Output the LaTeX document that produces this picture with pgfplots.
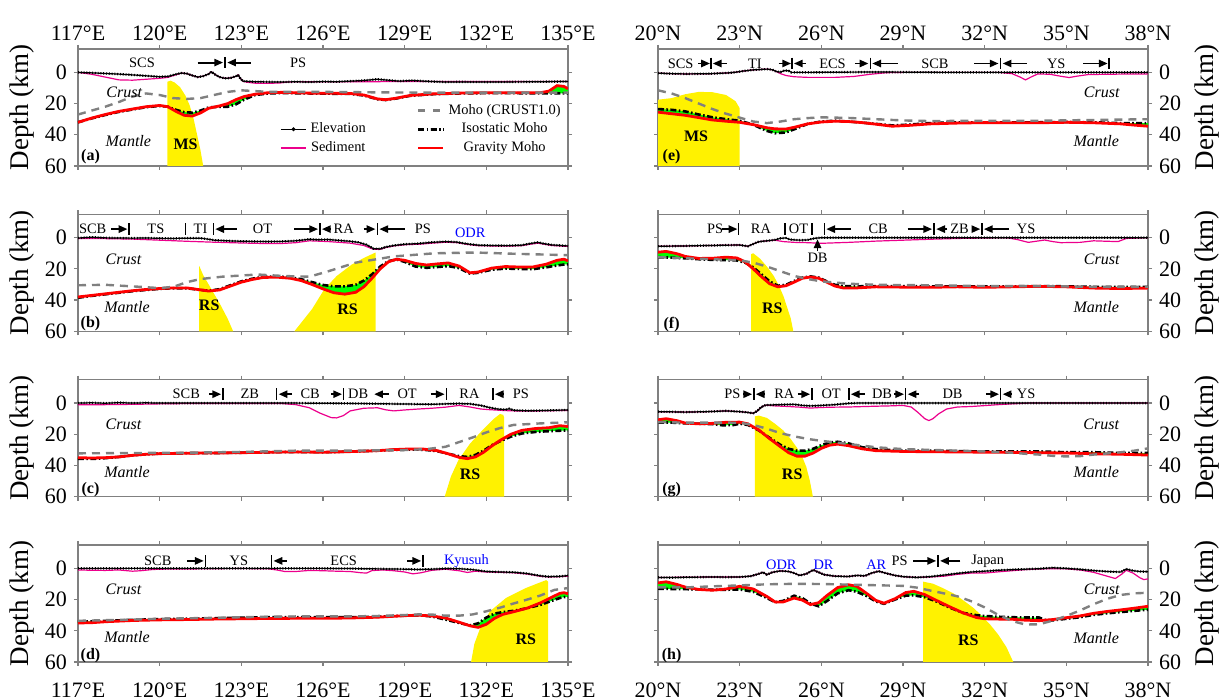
\documentclass[border=0pt]{standalone}
\usepackage{fontspec}
\setmainfont{Liberation Serif}
\usepackage{pgfplots}
\usepackage{pgfplotstable}
\pgfplotsset{compat=1.18}
\usetikzlibrary{arrows.meta}

\newcommand{\fs}{\fontsize{7.2}{8}\selectfont}
\newcommand{\rarr}[3]{\draw[-{Triangle[length=4.4pt,width=3.6pt]},line width=0.95pt] (axis cs:#1,#3) -- (axis cs:#2,#3);}
\newcommand{\vb}[2]{\draw[line width=0.75pt] ([yshift=2.9pt]axis cs:#1,#2) -- ([yshift=-2.9pt]axis cs:#1,#2);}
\newcommand{\tx}[3]{\node[font=\fs,inner sep=0pt] at (axis cs:#1,#2) {#3};}
\newcommand{\btx}[3]{\node[font=\fs,text=blue,inner sep=0pt] at (axis cs:#1,#2) {#3};}
\newcommand{\crust}[2]{\node[font=\fontsize{8}{9}\selectfont\itshape,inner sep=0pt] at (axis cs:#1,#2) {Crust};}
\newcommand{\mantle}[2]{\node[font=\fontsize{8}{9}\selectfont\itshape,inner sep=0pt] at (axis cs:#1,#2) {Mantle};}
\newcommand{\bld}[3]{\node[font=\fontsize{8}{9}\selectfont\bfseries,inner sep=0pt] at (axis cs:#1,#2) {#3};}

\pgfplotsset{
 panel/.style={
  scale only axis, width=245pt, height=58.5pt, anchor=south west,
  ymin=-15, ymax=60, y dir=reverse, ytick={0,20,40,60},
  axis line style={draw=gray, line width=0.6pt},
  tick align=outside, xtick pos=both, ytick pos=both,
  major tick length=2pt,
  every tick/.style={gray, line width=0.6pt},
  tick label style={font=\fontsize{11}{12}\selectfont},
  /pgf/number format/assume math mode=true,
  label style={font=\fontsize{13.5}{15}\selectfont},
 },
 Lp/.style={panel, xmin=117, xmax=135, xtick={117,120,...,135},
   ylabel={Depth (km)}, ylabel style={at={(axis description cs:-0.115,0.5)},anchor=center}},
 Rp/.style={panel, xmin=20, xmax=38, xtick={20,23,...,38}, yticklabel pos=right,
   ylabel={Depth (km)}, ylabel style={at={(axis description cs:1.12,0.5)},anchor=center}},
 Lx/.style={xticklabels={117°E,120°E,123°E,126°E,129°E,132°E,135°E}},
 Rx/.style={xticklabels={20°N,23°N,26°N,29°N,32°N,35°N,38°N}},
 nox/.style={xticklabels={}},
 top/.style={xticklabel pos=right, xtick pos=both, xticklabel style={yshift=-1.5pt}},
 bot/.style={xticklabel style={yshift=-5pt}},
 elev/.style={black, line width=0.6pt, forget plot},
 elevdots/.style={black, line width=1.2pt, dash pattern=on 0.5pt off 0.9pt, forget plot},
 sed/.style={magenta, line width=0.6pt, forget plot},
 crust/.style={gray, line width=1.2pt, dash pattern=on 4pt off 3pt, forget plot},
 iso/.style={black, line width=1.3pt, dash pattern=on 3pt off 1.2pt on 0.8pt off 1.2pt, forget plot},
 grav/.style={red, line width=1.4pt, forget plot},
 slab/.style={fill=yellow, draw=none, forget plot},
 gfill/.style={fill=green, draw=none, forget plot},
}

\begin{document}

\pgfplotstableread{
x y
117 0
117.5 0.3
118 0.7
118.5 1.1
119 1.6
119.5 2.2
120 2.8
120.3 2.6
120.6 1.2
120.8 0.4
121.0 0.8
121.2 2.0
121.4 3.0
121.6 2.4
121.8 1.0
121.9 -0.4
122.05 1.5
122.2 3.0
122.4 3.8
122.6 3.6
122.8 2.5
122.88 1.6
122.95 3.5
123.05 5.6
123.5 6.0
124 6.1
124.5 6.2
125 6.0
125.5 6.2
126 5.9
126.5 6.0
127 5.6
127.5 5.2
128 4.4
128.4 5.0
128.8 5.6
129.3 5.2
129.8 5.7
130.5 6.2
131 6.1
132 6.2
133 6.1
134 6.0
135 5.8
}\elevA

\pgfplotstableread{
x y
20 0.5
20.5 0.8
21 1.0
21.5 0.9
22 0.8
22.5 0.4
22.8 0.0
23.0 -0.5
23.2 -1.0
23.5 -1.6
23.8 -1.9
24.0 -2.1
24.2 -1.7
24.35 -0.5
24.5 -0.2
24.65 -1.2
24.8 -1.0
24.9 0.0
25.5 0.0
26.5 -0.1
27.5 -0.2
28.5 -0.2
29.5 -0.1
30.5 0.0
38 0.0
}\elevE

\pgfplotstableread{
x y
117 0.2
117.5 -0.3
118 0.1
118.5 0.2
119 0.3
119.5 0.2
120 0.4
120.5 0.5
121 0.3
121.5 0.3
121.8 1.0
122 1.6
122.5 2.0
123 2.3
123.5 2.4
124 2.5
124.5 2.4
125 2.0
125.5 1.0
125.8 1.3
126.2 1.2
126.6 1.8
127 2.3
127.3 3.0
127.6 4.5
127.85 7.0
128.1 7.2
128.3 6.0
128.6 5.0
129 4.2
129.5 3.8
130 3.0
130.5 2.5
130.9 2.8
131.3 4.0
131.7 4.8
132.2 5.0
132.8 5.1
133.3 4.8
133.6 3.8
133.9 3.0
134.1 3.8
134.4 4.6
135 5.3
}\elevB

\pgfplotstableread{
x y
20 5.5
20.5 5.4
21 5.3
21.5 5.1
22 5.0
22.5 4.8
23 4.7
23.3 5.5
23.5 4.0
23.7 2.6
24 2.0
24.3 1.4
24.5 0.4
24.7 0.2
24.85 1.2
25.2 1.6
25.5 1.4
25.75 0.4
26 0
38 0
}\elevF

\pgfplotstableread{
x y
117 0
117.5 -0.2
118 0.1
118.5 -0.3
119 0
119.5 -0.2
120 0
121 0
122 0
123 0
124 0
125 0
126 0.1
127 0.2
128 0.4
129 0.6
129.5 0.7
130 0.8
130.5 0.5
131 0.3
131.4 0.5
131.8 1.5
132.1 2.8
132.4 3.8
132.7 4.2
132.85 3.6
133.0 4.6
133.5 4.9
134 4.8
134.5 4.6
135 4.4
}\elevC

\pgfplotstableread{
x y
20 5.5
20.5 5.6
21 5.8
21.5 5.6
22 5.4
22.5 5.0
23 5.5
23.3 6.0
23.5 6.5
23.65 5.0
23.8 2.5
23.95 1.3
24.5 1.0
25 0.8
25.3 1.5
25.6 1.8
26 1.5
26.5 1.0
27 0.2
27.3 0
38 0
}\elevG

\pgfplotstableread{
x y
117 0
118 0
119 0
120 0
121 0
122 0
123 0
124 0
125 0
126 0
127 0.1
128 0.3
129 0.5
129.5 0.7
130 0.5
130.5 0.1
131 0.2
131.5 0.8
132 2.0
132.5 2.3
133 2.5
133.5 3.3
134 4.8
134.3 5.3
134.7 5.1
135 4.6
}\elevD

\pgfplotstableread{
x y
20 5.8
20.5 5.9
21 5.7
21.5 5.6
22 5.5
22.5 5.6
23 5.5
23.4 5.0
23.7 3.5
23.85 2.5
24.0 4.0
24.2 2.5
24.5 1.6
24.8 2.0
25.0 3.0
25.2 4.5
25.45 3.5
25.7 1.0
25.9 2.5
26.1 4.0
26.5 5.0
27.0 5.2
27.3 4.5
27.6 4.8
27.85 3.0
28.1 1.8
28.4 3.2
28.7 4.5
29.0 5.3
29.5 5.8
30.0 5.3
30.5 4.3
31.0 3.2
31.5 2.3
32.0 1.8
32.5 1.2
33.0 0.8
33.5 0.5
34.0 0.2
34.5 -0.4
35.0 0
35.5 0.6
36.0 1.4
36.5 2.0
37.0 2.3
37.2 0.4
37.45 1.5
37.7 2.0
38 2.1
}\elevH

\begin{tikzpicture}
\path[use as bounding box] (0,0) rectangle (612.5pt,350pt);

% ---------------- (a)
\begin{axis}[Lp, Lx, top, at={(39pt,267pt)},
  legend columns=2,
  legend style={at={(0.412,0.314)}, anchor=west, draw=none, fill=none,
    font=\fs, row sep=-1.15pt, inner sep=0pt,
    /tikz/every even column/.append style={column sep=23.5pt}},
  legend image code/.code={\draw[mark repeat=2,mark phase=2] plot coordinates {(0pt,0pt)(6.25pt,0pt)(12.5pt,0pt)};}]
\addplot[slab] coordinates {(120.28,60)(120.28,6)(120.4,5.3)(120.55,6.5)(120.75,9.5)(120.95,15)(121.1,21)(121.25,30)(121.4,42)(121.5,50)(121.6,60)} -- cycle;
\addplot[gfill] coordinates {(117,32)(117.5,29.3)(118,27)(118.5,25)(119,23.5)(119.5,22)(120,21.2)(120.3,22)(120.6,25)(120.9,27.5)(121.2,28)(121.5,26)(121.8,23)(122.2,21.5)(122.5,20)(122.8,17.5)(123.1,15.5)(123.5,14)(124,13)(124.5,12.8)(125.5,13.3)(127,13.5)(127.5,14.5)(128,17)(128.3,17.5)(128.7,16.5)(129.2,14.8)(130,13.8)(131,13.3)(132,13)(133,13)(134,13)(134.3,12)(134.6,8.5)(134.85,9)(135,10.5)
 (135,13.5)(134.85,13.5)(134.6,13.5)(134.3,13.5)(134,13.5)(133,13.3)(132,13.3)(131,13.5)(130,14)(129.2,15)(128.7,16.7)(128.3,17.7)(128,17.2)(127.5,14.8)(127,13.8)(125.5,13.5)(124.5,13.2)(124,13.5)(123.5,14.5)(123.1,17.5)(122.8,20.5)(122.5,22)(122.2,22)(121.8,22.5)(121.5,24.5)(121.2,25.8)(120.9,25.5)(120.6,24)(120.3,22)(120,21.5)(119.5,22.3)(119,23.8)(118.5,25.3)(118,27.3)(117.5,29.5)(117,32)} -- cycle;
\addplot[sed] coordinates {(117,0)(117.5,1.2)(118,3.0)(118.5,4.8)(119,5.0)(119.5,4.4)(120,3.8)(120.3,3.2)(120.6,1.5)(120.8,0.5)(121.0,0.8)(121.2,2.0)(121.4,3.0)(121.6,2.4)(121.8,1.0)(121.9,-0.4)(122.05,1.5)(122.2,3.0)(122.4,3.8)(122.6,3.6)(122.8,2.5)(122.88,1.6)(122.95,3.5)(123.05,5.6)(123.2,6.3)(123.5,6.9)(124,7.0)(124.4,6.8)(124.7,6.2)(125,6.0)(135,5.8)};
\addplot[elev] table {\elevA};
\addplot[elevdots] table {\elevA};
\addplot[iso] coordinates {(117,32)(117.5,29.5)(118,27.3)(118.5,25.3)(119,23.8)(119.5,22.3)(120,21.5)(120.3,22)(120.6,24)(120.9,25.5)(121.2,25.8)(121.5,24.5)(121.8,22.5)(122.2,22)(122.5,22)(122.8,20.5)(123.1,17.5)(123.5,14.5)(124,13.5)(124.5,13.2)(125.5,13.5)(127,13.8)(127.5,14.8)(128,17.2)(128.3,17.7)(128.7,16.7)(129.2,15)(130,14)(131,13.5)(132,13.3)(133,13.3)(134,13.5)(134.3,13.5)(134.6,13.5)(134.85,13.5)(135,13.5)};
\addplot[grav] coordinates {(117,32)(117.5,29.3)(118,27)(118.5,25)(119,23.5)(119.5,22)(120,21.2)(120.3,22)(120.6,25)(120.9,27.5)(121.2,28)(121.5,26)(121.8,23)(122.2,21.5)(122.5,20)(122.8,17.5)(123.1,15.5)(123.5,14)(124,13)(124.5,12.8)(125.5,13.3)(127,13.5)(127.5,14.5)(128,17)(128.3,17.5)(128.7,16.5)(129.2,14.8)(130,13.8)(131,13.3)(132,13)(133,13)(134,13)(134.3,12)(134.6,8.5)(134.85,9)(135,10.5)};
\addplot[crust] coordinates {(117,27)(117.5,24.5)(118,22)(118.5,19)(119,15.5)(119.5,13.5)(120,14.5)(120.5,16.5)(121,17)(121.5,16.5)(122,14.5)(122.5,12.5)(123,11.5)(123.5,12)(124,12.5)(126,12.5)(128,12.8)(130,13)(132,13)(134,13)(135,13)};
\tx{119.35}{-6.3}{SCS}
\rarr{121.39}{122.33}{-6.3}\vb{122.40}{-6.3}\rarr{123.35}{122.48}{-6.3}
\tx{125.09}{-6.3}{PS}
\crust{118.7}{13}\mantle{118.85}{43.8}\bld{120.95}{46}{MS}\bld{117.46}{53.7}{(a)}
\addlegendimage{color=white}\addlegendentry{}
\addlegendimage{color=gray, line width=1.2pt, dash pattern=on 3.5pt off 4pt}\addlegendentry{Moho (CRUST1.0)}
\addlegendimage{color=black, line width=0.5pt, mark=*, mark size=0.7pt}\addlegendentry{Elevation}
\addlegendimage{color=black, line width=1.3pt, dash pattern=on 3pt off 1.2pt on 0.8pt off 1.2pt}\addlegendentry{Isostatic Moho}
\addlegendimage{color=magenta, line width=0.7pt}\addlegendentry{Sediment}
\addlegendimage{color=red, line width=1.4pt}\addlegendentry{Gravity Moho}
\end{axis}

% ---------------- (b)
\begin{axis}[Lp, nox, at={(39pt,184.35pt)}]
\addplot[slab] coordinates {(121.45,60)(121.45,18)(121.6,24)(121.9,33)(122.2,42)(122.5,52)(122.7,60)} -- cycle;
\addplot[slab] coordinates {(124.95,60)(125.6,45.7)(126.05,33)(126.5,24.6)(127.05,17.3)(127.5,13)(127.93,9.5)(127.93,60)} -- cycle;
\addplot[gfill] coordinates {(117,38)(117.5,37)(118,36)(118.5,35)(119,34)(119.5,33.2)(120,32.6)(120.5,32.2)(121,32.2)(121.4,33.2)(121.8,34.2)(122.2,33.5)(122.6,31)(123,28.5)(123.4,26.8)(123.8,25.5)(124.3,25.3)(124.8,26)(125.2,27.5)(125.6,30)(126,32.8)(126.4,35.3)(126.8,36.2)(127.2,35)(127.5,31.5)(127.8,26)(128.1,20)(128.4,15.5)(128.7,13.8)(129,14.5)(129.4,16.5)(129.8,17.5)(130.2,16.8)(130.6,16.2)(131,18.2)(131.4,22.5)(131.7,22)(132.2,19.5)(132.7,18.5)(133.2,18.8)(133.7,18.8)(134.2,17)(134.6,14.5)(134.85,13.8)(135,14.8)
 (135,17)(134.85,17.2)(134.6,17.8)(134.2,19)(133.7,20.2)(133.2,20)(132.7,19.8)(132.2,20.5)(131.7,22.5)(131.4,23)(131,19.5)(130.6,18.2)(130.2,18.8)(129.8,19.3)(129.4,18.5)(129,15.5)(128.7,14)(128.4,15)(128.1,18.5)(127.8,23.5)(127.5,27.5)(127.2,30.2)(126.8,31.2)(126.4,31.2)(126,30.3)(125.6,28.5)(125.2,26.6)(124.8,25.4)(124.3,24.8)(123.8,25.1)(123.4,26.3)(123,28)(122.6,30.5)(122.2,33)(121.8,34)(121.4,33.3)(121,32.4)(120.5,32.4)(120,32.8)(119.5,33.5)(119,34.3)(118.5,35.3)(118,36.3)(117.5,37.3)(117,38.5)} -- cycle;
\addplot[sed] coordinates {(117,0.5)(118,0.6)(119,0.9)(120,1.6)(121,2.3)(122,2.9)(123,3.4)(124,3.8)(124.5,3.7)(125,3.2)(125.5,2.0)(125.8,2.2)(126.2,2.5)(126.6,3.0)(127,3.5)(127.5,5.0)(127.85,7.4)(128.1,7.5)(128.3,6.3)(128.6,5.3)(129,4.5)(129.5,4.2)(130,3.5)(130.5,2.9)(130.9,3.1)(131.3,4.3)(131.7,5.1)(132.2,5.3)(132.8,5.4)(133.3,5.1)(133.6,4.2)(133.9,3.5)(134.1,4.1)(134.4,5.0)(135,5.6)};
\addplot[elev] table {\elevB};
\addplot[elevdots] table {\elevB};
\addplot[iso] coordinates {(117,38.5)(117.5,37.3)(118,36.3)(118.5,35.3)(119,34.3)(119.5,33.5)(120,32.8)(120.5,32.4)(121,32.4)(121.4,33.3)(121.8,34)(122.2,33)(122.6,30.5)(123,28)(123.4,26.3)(123.8,25.1)(124.3,24.8)(124.8,25.4)(125.2,26.6)(125.6,28.5)(126,30.3)(126.4,31.2)(126.8,31.2)(127.2,30.2)(127.5,27.5)(127.8,23.5)(128.1,18.5)(128.4,15)(128.7,14)(129,15.5)(129.4,18.5)(129.8,19.3)(130.2,18.8)(130.6,18.2)(131,19.5)(131.4,23)(131.7,22.5)(132.2,20.5)(132.7,19.8)(133.2,20)(133.7,20.2)(134.2,19)(134.6,17.8)(134.85,17.2)(135,17)};
\addplot[grav] coordinates {(117,38)(117.5,37)(118,36)(118.5,35)(119,34)(119.5,33.2)(120,32.6)(120.5,32.2)(121,32.2)(121.4,33.2)(121.8,34.2)(122.2,33.5)(122.6,31)(123,28.5)(123.4,26.8)(123.8,25.5)(124.3,25.3)(124.8,26)(125.2,27.5)(125.6,30)(126,32.8)(126.4,35.3)(126.8,36.2)(127.2,35)(127.5,31.5)(127.8,26)(128.1,20)(128.4,15.5)(128.7,13.8)(129,14.5)(129.4,16.5)(129.8,17.5)(130.2,16.8)(130.6,16.2)(131,18.2)(131.4,22.5)(131.7,22)(132.2,19.5)(132.7,18.5)(133.2,18.8)(133.7,18.8)(134.2,17)(134.6,14.5)(134.85,13.8)(135,14.8)};
\addplot[crust] coordinates {(117,30.5)(118,30.2)(119,31.2)(120,32.3)(120.5,31.5)(121,28.5)(121.5,26.5)(122.3,25)(123.6,23.6)(124.6,24.6)(125.5,25)(126.2,21.5)(127.2,16)(128.6,12)(130.1,10)(131.6,9.5)(133,10.3)(135,11.2)};
\tx{117.54}{-5.5}{SCB}\rarr{118.22}{118.82}{-5.5}\vb{118.87}{-5.5}
\tx{119.86}{-5.5}{TS}
\vb{120.95}{-5.5}\tx{121.50}{-5.5}{TI}\vb{121.97}{-5.5}\rarr{122.84}{122.04}{-5.5}
\tx{123.78}{-5.5}{OT}
\rarr{124.95}{125.82}{-5.5}\vb{125.89}{-5.5}\rarr{126.25}{125.96}{-5.5}
\tx{126.76}{-5.5}{RA}
\rarr{127.49}{127.93}{-5.5}\vb{128.0}{-5.5}\rarr{129.01}{128.07}{-5.5}
\tx{129.67}{-5.5}{PS}
\btx{131.41}{-3.4}{ODR}
\crust{118.67}{13.7}\mantle{118.8}{44.2}\bld{121.82}{43.6}{RS}\bld{126.9}{45.7}{RS}\bld{117.46}{55}{(b)}
\end{axis}

% ---------------- (c)
\begin{axis}[Lp, nox, at={(39pt,101.65pt)}]
\addplot[slab] coordinates {(130.47,60)(130.7,47)(130.98,36.4)(131.4,26)(131.85,17.5)(132.28,10)(132.5,7)(132.62,7.5)(132.65,9)(132.65,60)} -- cycle;
\addplot[gfill] coordinates {(117,35)(117.5,35.2)(118,35)(118.5,34.5)(119,33.5)(119.5,32.8)(120,32.4)(121,32.1)(122,32)(123,31.8)(124,31.5)(125,31.3)(126,31.5)(127,31.1)(128,30.5)(128.6,29.8)(129.2,29.4)(129.7,29.5)(130.2,30.5)(130.6,32.5)(131,34.8)(131.3,35.6)(131.6,34.5)(131.9,31.5)(132.2,27.5)(132.5,24)(132.9,20)(133.3,17.5)(133.8,16.3)(134.3,15.8)(134.7,14.5)(135,15)
 (135,17.5)(134.7,17.7)(134.3,18)(133.8,18.5)(133.3,19.5)(132.9,21.5)(132.5,24.5)(132.2,27)(131.9,30.5)(131.6,33.2)(131.3,34.5)(131,34)(130.6,32.5)(130.2,30.8)(129.7,29.9)(129.2,29.8)(128.6,30)(128,30.5)(127,31.1)(126,31.5)(125,31.3)(124,31.5)(123,31.8)(122,32)(121,32.1)(120,32.4)(119.5,32.8)(119,33.5)(118.5,34.5)(118,35.3)(117.5,35.8)(117,35.8)} -- cycle;
\addplot[sed] coordinates {(117,1.0)(118,1.0)(119,0.8)(120,0.5)(121,0.3)(122,0.2)(123.5,0.2)(124.5,0.3)(125,1.0)(125.5,3.0)(125.9,6.5)(126.3,9.3)(126.5,9.5)(126.75,8.0)(127,5.0)(127.5,3.3)(128,3.0)(128.3,4.3)(128.6,5.0)(129,4.4)(129.5,3.8)(130,3.3)(130.5,2.6)(131,1.5)(131.4,2.5)(131.8,3.8)(132.1,4.2)(132.4,4.5)(132.7,4.8)(133.0,5.0)(133.5,5.1)(134,5.0)(135,4.7)};
\addplot[elev] table {\elevC};
\addplot[elevdots] table {\elevC};
\addplot[iso] coordinates {(117,35.8)(117.5,35.8)(118,35.3)(118.5,34.5)(119,33.5)(119.5,32.8)(120,32.4)(121,32.1)(122,32)(123,31.8)(124,31.5)(125,31.3)(126,31.5)(127,31.1)(128,30.5)(128.6,30)(129.2,29.8)(129.7,29.9)(130.2,30.8)(130.6,32.5)(131,34)(131.3,34.5)(131.6,33.2)(131.9,30.5)(132.2,27)(132.5,24.5)(132.9,21.5)(133.3,19.5)(133.8,18.5)(134.3,18)(134.7,17.7)(135,17.5)};
\addplot[grav] coordinates {(117,35)(117.5,35.2)(118,35)(118.5,34.5)(119,33.5)(119.5,32.8)(120,32.4)(121,32.1)(122,32)(123,31.8)(124,31.5)(125,31.3)(126,31.5)(127,31.1)(128,30.5)(128.6,29.8)(129.2,29.4)(129.7,29.5)(130.2,30.5)(130.6,32.5)(131,34.8)(131.3,35.6)(131.6,34.5)(131.9,31.5)(132.2,27.5)(132.5,24)(132.9,20)(133.3,17.5)(133.8,16.3)(134.3,15.8)(134.7,14.5)(135,15)};
\addplot[crust] coordinates {(117,32.2)(119,32)(121,31.8)(123,31.3)(125,30.5)(127,30.5)(129,30.1)(129.8,29.5)(130.5,28)(131,25)(131.5,22)(132,18.8)(132.5,16)(133,14)(134,13)(135,12.3)};
\tx{120.98}{-5.7}{SCB}\rarr{121.82}{122.26}{-5.7}\vb{122.33}{-5.7}
\tx{123.31}{-5.7}{ZB}
\vb{124.29}{-5.7}\rarr{124.87}{124.37}{-5.7}
\tx{125.53}{-5.7}{CB}
\rarr{126.30}{126.70}{-5.7}\vb{126.76}{-5.7}
\tx{127.29}{-5.7}{DB}
\rarr{128.43}{127.88}{-5.7}
\tx{129.09}{-5.7}{OT}
\rarr{129.96}{130.47}{-5.7}\vb{130.54}{-5.7}
\tx{131.38}{-5.7}{RA}
\vb{132.25}{-5.7}\rarr{132.62}{132.31}{-5.7}
\tx{133.27}{-5.7}{PS}
\crust{118.67}{13.3}\mantle{118.8}{44.4}\bld{131.4}{45.9}{RS}\bld{117.46}{55.4}{(c)}
\end{axis}

% ---------------- (d)
\begin{axis}[Lp, Lx, bot, at={(39pt,19pt)}]
\addplot[slab] coordinates {(131.44,60)(131.56,48.4)(131.78,38)(132.14,27.4)(132.72,19)(133.45,12.6)(133.9,9.5)(134.2,7.5)(134.27,8.5)(134.27,60)} -- cycle;
\addplot[gfill] coordinates {(117,35)(117.5,34.8)(118,34.2)(119,33.4)(120,33)(121,32.8)(122,32.5)(123,32.3)(124,32.1)(125,32)(126,32)(127,31.8)(128,31.3)(129,30.3)(129.5,30)(130,30.5)(130.5,31.8)(131,34.5)(131.4,36.8)(131.7,37.8)(132,35.8)(132.3,32)(132.6,29.5)(133,27.8)(133.5,25.5)(134,22)(134.4,18.5)(134.7,16)(134.85,15.6)(135,16.2)
 (135,18.2)(134.85,18.4)(134.7,19)(134.4,20.8)(134,23.3)(133.5,25.5)(133,27.2)(132.6,28)(132.3,29)(132,31.5)(131.7,35.2)(131.4,36.5)(131,35)(130.5,32.8)(130,30.8)(129.5,30)(129,30.3)(128,31)(127,31.3)(126,31.3)(125,31.3)(124,31.3)(123,31.6)(122,32)(121,32.3)(120,32.5)(119,33)(118,33.7)(117.5,34)(117,34)} -- cycle;
\addplot[sed] coordinates {(117,1.0)(117.5,1.2)(118,1.3)(118.5,1.0)(119,1.8)(119.3,1.5)(119.7,0.8)(120,0.5)(121,0.4)(122,0.2)(123,0.1)(124,0.3)(124.3,1.0)(124.6,2.0)(125,2.0)(125.5,1.3)(126,1.5)(126.5,1.8)(127,2.0)(127.4,2.8)(127.6,3.0)(127.8,1.4)(128.2,1.0)(128.6,1.5)(129,2.3)(129.3,3.5)(129.6,2.8)(130,1.2)(130.5,0.5)(131,1.5)(131.3,2.6)(131.6,1.8)(132,2.3)(132.5,2.5)(133,2.8)(133.5,3.6)(134,5.1)(134.3,5.5)(134.7,5.3)(135,5.0)};
\addplot[elev] table {\elevD};
\addplot[elevdots] table {\elevD};
\addplot[iso] coordinates {(117,34)(117.5,34)(118,33.7)(119,33)(120,32.5)(121,32.3)(122,32)(123,31.6)(124,31.3)(125,31.3)(126,31.3)(127,31.3)(128,31)(129,30.3)(129.5,30)(130,30.8)(130.5,32.8)(131,35)(131.4,36.5)(131.7,35.2)(132,31.5)(132.3,29)(132.6,28)(133,27.2)(133.5,25.5)(134,23.3)(134.4,20.8)(134.7,19)(134.85,18.4)(135,18.2)};
\addplot[grav] coordinates {(117,35)(117.5,34.8)(118,34.2)(119,33.4)(120,33)(121,32.8)(122,32.5)(123,32.3)(124,32.1)(125,32)(126,32)(127,31.8)(128,31.3)(129,30.3)(129.5,30)(130,30.5)(130.5,31.8)(131,34.5)(131.4,36.8)(131.7,37.8)(132,35.8)(132.3,32)(132.6,29.5)(133,27.8)(133.5,25.5)(134,22)(134.4,18.5)(134.7,16)(134.85,15.6)(135,16.2)};
\addplot[crust] coordinates {(117,33.6)(118,33.2)(119,32.8)(120,32.3)(121,32)(122,31.7)(123,31.3)(124,31)(125,30.8)(126,30.8)(127,30.8)(128,30.5)(129,29.9)(129.5,29.5)(130,29.6)(130.5,30.3)(131,30.3)(131.5,29.5)(132,27.5)(132.5,25.2)(133,22.5)(133.5,20)(134,17.3)(134.5,13.8)(135,12.6)};
\tx{119.93}{-4.8}{SCB}\rarr{121.02}{121.62}{-4.8}\vb{121.68}{-4.8}
\tx{122.91}{-4.8}{YS}
\vb{124.10}{-4.8}\rarr{124.66}{124.18}{-4.8}
\tx{126.76}{-4.8}{ECS}
\rarr{129.09}{129.61}{-4.8}\vb{129.67}{-4.8}
\btx{131.27}{-4.8}{Kyusuh}
\crust{118.67}{13.7}\mantle{118.8}{44.2}\bld{133.45}{45.3}{RS}\bld{117.46}{55.8}{(d)}
\end{axis}

% ---------------- (e)
\begin{axis}[Rp, Rx, top, at={(329pt,267pt)}]
\addplot[slab] coordinates {(20,60)(20,17.5)(20.5,16.5)(21,14)(21.5,12.5)(22,12.7)(22.5,14.5)(22.85,18.5)(23,23)(23,60)} -- cycle;
\addplot[gfill] coordinates {(20,25.5)(20.5,26.5)(21,27.5)(21.5,29)(22,30.5)(22.5,31.3)(23,32)(23.5,33.5)(23.8,34.7)(24,35.5)(24.3,36.2)(24.7,36.3)(25,35.2)(25.5,33)(26,31.8)(26.5,31.3)(27,31.5)(27.5,32.2)(28,33.2)(28.6,34.5)(29.2,34)(30,33)(31,32.5)(32,32.2)(33,32.3)(34,32.3)(35,32)(36,32.3)(37,33)(37.5,33.8)(38,34.5)
 (38,32.5)(37,32.5)(36,32)(35,31.8)(34,32)(33,32)(32,32)(31,32)(30,32.5)(29.2,33.5)(28.6,34)(28,33)(27.5,32.2)(27,31.5)(26.5,31)(26,31.5)(25.5,33)(25,36.5)(24.7,38.5)(24.3,39)(24,37.5)(23.8,36)(23.5,33.5)(23,31)(22.5,30)(22,28.8)(21.5,27)(21,25)(20.5,24)(20,23.5)} -- cycle;
\addplot[sed] coordinates {(20,0.5)(20.5,0.8)(21,1.0)(21.5,0.9)(22,0.8)(22.5,0.4)(22.8,0.0)(23.0,-0.5)(23.2,-1.0)(23.5,-1.6)(23.8,-1.9)(24.0,-2.1)(24.2,-1.7)(24.35,-0.5)(24.5,0.8)(24.7,2.0)(25.0,2.8)(25.5,3.2)(26.5,3.2)(27.2,2.6)(27.8,1.2)(28.4,0.2)(29,0)(32.5,0)(33.0,0.8)(33.3,3.0)(33.5,4.8)(33.7,3.0)(33.95,1.0)(34.4,1.2)(34.8,2.5)(35.1,3.3)(35.4,2.4)(35.8,1.4)(36.5,1.2)(37.5,1.0)(38,1.0)};
\addplot[elev] table {\elevE};
\addplot[elevdots] table {\elevE};
\addplot[iso] coordinates {(20,23.5)(20.5,24)(21,25)(21.5,27)(22,28.8)(22.5,30)(23,31)(23.5,33.5)(23.8,36)(24,37.5)(24.3,39)(24.7,38.5)(25,36.5)(25.5,33)(26,31.5)(26.5,31)(27,31.5)(27.5,32.2)(28,33)(28.6,34)(29.2,33.5)(30,32.5)(31,32)(32,32)(33,32)(34,32)(35,31.8)(36,32)(37,32.5)(38,32.5)};
\addplot[grav] coordinates {(20,25.5)(20.5,26.5)(21,27.5)(21.5,29)(22,30.5)(22.5,31.3)(23,32)(23.5,33.5)(23.8,34.7)(24,35.5)(24.3,36.2)(24.7,36.3)(25,35.2)(25.5,33)(26,31.8)(26.5,31.3)(27,31.5)(27.5,32.2)(28,33.2)(28.6,34.5)(29.2,34)(30,33)(31,32.5)(32,32.2)(33,32.3)(34,32.3)(35,32)(36,32.3)(37,33)(37.5,33.8)(38,34.5)};
\addplot[crust] coordinates {(20,11.5)(20.5,13.5)(21,16.5)(21.5,20)(22,23.5)(22.5,26.5)(23,29)(23.5,31.5)(24,32.5)(24.5,31.5)(25,30)(25.5,29.3)(26,28.8)(27,29.2)(28,30)(29,30.8)(30,31.2)(32,31)(34,31)(36,30.5)(38,30)};
\tx{20.83}{-5.7}{SCS}\rarr{21.48}{21.91}{-5.7}\vb{21.95}{-5.7}\rarr{22.53}{22.01}{-5.7}
\tx{23.56}{-5.7}{TI}
\rarr{24.43}{24.89}{-5.7}\vb{24.93}{-5.7}\rarr{25.43}{24.99}{-5.7}
\tx{26.41}{-5.7}{ECS}
\rarr{27.23}{27.73}{-5.7}\vb{27.80}{-5.7}\rarr{28.81}{27.87}{-5.7}
\tx{30.17}{-5.7}{SCB}
\rarr{31.61}{32.51}{-5.7}\vb{32.59}{-5.7}\rarr{33.55}{32.66}{-5.7}
\tx{34.63}{-5.7}{YS}
\rarr{35.63}{36.52}{-5.7}\vb{36.57}{-5.7}
\crust{36.3}{12.6}\mantle{36.1}{43.8}\bld{21.4}{41}{MS}\bld{20.5}{53.7}{(e)}
\end{axis}

% ---------------- (f)
\begin{axis}[Rp, nox, at={(329pt,184.35pt)}]
\addplot[slab] coordinates {(23.42,60)(23.42,10.5)(23.5,10)(23.75,13.5)(24.0,18.5)(24.25,24.5)(24.45,31)(24.62,38)(24.75,45)(24.88,52)(24.97,60)} -- cycle;
\addplot[gfill] coordinates {(20,9.3)(20.3,8.8)(20.7,10.3)(21,12)(21.5,13.3)(22,13.2)(22.5,12.5)(22.9,13)(23.2,15.5)(23.5,20)(23.8,25)(24.1,29.5)(24.4,31.5)(24.7,30.8)(25,28.5)(25.3,26)(25.6,25.2)(25.9,26)(26.2,28.5)(26.5,31)(26.8,32.2)(27.3,32.2)(28,31.5)(29,31.7)(30,31.8)(31,31.5)(32,31.8)(33,31.5)(34,31.2)(35,31.5)(36,32.3)(37,32.6)(38,32.3)
 (38,31.5)(37,31.5)(36,31.5)(35,31.2)(34,31)(33,31.2)(32,31.3)(31,31.2)(30,31.2)(29,31)(28,31)(27.3,31.2)(26.8,31)(26.5,30.2)(26.2,28)(25.9,25.6)(25.6,24.8)(25.3,25.6)(25,27.8)(24.7,30.2)(24.4,30.8)(24.1,28)(23.8,23.5)(23.5,19)(23.2,16)(22.9,14.6)(22.5,14.4)(22,14.2)(21.5,13.8)(21,13.2)(20.5,12.8)(20,12.5)} -- cycle;
\addplot[sed] coordinates {(20,5.5)(20.5,5.4)(21,5.3)(21.5,5.1)(22,5.0)(22.5,4.8)(23,4.7)(23.3,5.5)(23.5,4.0)(23.7,2.6)(24,2.0)(24.3,1.6)(24.6,2.5)(25,3.0)(25.5,3.2)(26,3.6)(27,3.0)(28,2.2)(29,1.6)(30,1.0)(31,0.5)(32,0.2)(32.8,0)(33.2,1.2)(33.6,3.0)(34,2.0)(34.2,1.5)(34.5,2.5)(34.8,3.2)(35.5,3.0)(36,2.0)(36.5,2.3)(36.9,2.5)(37.2,0.5)(38,0)};
\addplot[elev] table {\elevF};
\addplot[elevdots] table {\elevF};
\addplot[iso] coordinates {(20,12.5)(20.5,12.8)(21,13.2)(21.5,13.8)(22,14.2)(22.5,14.4)(22.9,14.6)(23.2,16)(23.5,19)(23.8,23.5)(24.1,28)(24.4,30.8)(24.7,30.2)(25,27.8)(25.3,25.6)(25.6,24.8)(25.9,25.6)(26.2,28)(26.5,30.2)(26.8,31)(27.3,31.2)(28,31)(29,31)(30,31.2)(31,31.2)(32,31.3)(33,31.2)(34,31)(35,31.2)(36,31.5)(37,31.5)(38,31.5)};
\addplot[grav] coordinates {(20,9.3)(20.3,8.8)(20.7,10.3)(21,12)(21.5,13.3)(22,13.2)(22.5,12.5)(22.9,13)(23.2,15.5)(23.5,20)(23.8,25)(24.1,29.5)(24.4,31.5)(24.7,30.8)(25,28.5)(25.3,26)(25.6,25.2)(25.9,26)(26.2,28.5)(26.5,31)(26.8,32.2)(27.3,32.2)(28,31.5)(29,31.7)(30,31.8)(31,31.5)(32,31.8)(33,31.5)(34,31.2)(35,31.5)(36,32.3)(37,32.6)(38,32.3)};
\addplot[crust] coordinates {(20,12.5)(21,13.2)(22,13.8)(23,14.5)(23.5,16)(24,18.5)(24.5,21.5)(25,24.5)(25.5,26.5)(26,28)(27,29.5)(28,30.2)(30,30.5)(32,31)(34,31)(36,31.5)(38,31.5)};
\tx{22.10}{-5.5}{PS}\rarr{22.34}{22.92}{-5.5}\vb{22.96}{-5.5}
\tx{23.78}{-5.5}{RA}
\vb{24.67}{-5.5}\tx{25.16}{-5.5}{OT}\vb{25.65}{-5.5}
\vb{26.11}{-5.5}\rarr{27.08}{26.18}{-5.5}
\tx{28.09}{-5.5}{CB}
\rarr{29.17}{30.07}{-5.5}\vb{30.14}{-5.5}\rarr{30.63}{30.22}{-5.5}
\tx{31.08}{-5.5}{ZB}
\rarr{31.54}{31.84}{-5.5}\vb{31.90}{-5.5}\rarr{32.90}{31.97}{-5.5}
\tx{33.52}{-5.5}{YS}
\draw[-{Triangle[length=4.4pt,width=3.6pt]},line width=0.95pt] (axis cs:25.86,8.8) -- (axis cs:25.86,1.0);
\tx{25.86}{13}{DB}
\crust{36.3}{13.7}\mantle{36.1}{44.2}\bld{24.2}{45.3}{RS}\bld{20.5}{55.8}{(f)}
\end{axis}

% ---------------- (g)
\begin{axis}[Rp, nox, at={(329pt,101.65pt)}]
\addplot[slab] coordinates {(23.56,60)(23.56,8.5)(23.7,8)(24.0,9.5)(24.3,13.3)(24.6,17.5)(24.86,22.7)(25.1,28.5)(25.3,34.5)(25.45,41)(25.58,50)(25.69,60)} -- cycle;
\addplot[gfill] coordinates {(20,10.7)(20.3,10)(20.7,11.3)(21,12.8)(21.5,13.3)(22,13)(22.5,12.3)(23,12.2)(23.3,13.3)(23.7,17.2)(24.1,22.8)(24.5,28)(24.8,31.8)(25.1,34)(25.4,34)(25.7,32)(26,29)(26.3,27)(26.6,26.3)(27,27.3)(27.5,29.3)(28,30.5)(29,31)(30,31.2)(31,31.3)(32,31.5)(33,31.6)(34,31.8)(35,32)(36,32.5)(37,32.8)(38,33.3)
 (38,32)(37,32)(36,31.5)(35,31.5)(34,31)(33,31)(32,31)(31,30.8)(30,30.5)(29,30.5)(28,29.5)(27.5,28.3)(27,25.8)(26.6,24.8)(26.3,25.3)(26,27)(25.7,29.3)(25.4,30.5)(25.1,30.5)(24.8,29.3)(24.5,26.8)(24.1,22.3)(23.7,17.5)(23.3,14)(23,13.2)(22.8,14)(22.4,14.3)(22,13.5)(21.5,13.2)(21,13)(20.5,12.5)(20,12.4)} -- cycle;
\addplot[sed] coordinates {(20,5.5)(20.5,5.6)(21,5.8)(21.5,5.6)(22,5.4)(22.5,5.0)(23,5.5)(23.3,6.0)(23.5,6.5)(23.65,5.0)(23.8,2.5)(23.95,1.3)(24.3,1.8)(24.8,2.2)(25.2,2.6)(25.6,3.2)(26,2.8)(26.5,2.6)(27,2.5)(28,2.0)(28.5,1.8)(29,1.5)(29.3,2.5)(29.55,6)(29.8,10)(29.95,11.2)(30.1,10)(30.3,7)(30.6,3.8)(31,2.5)(31.5,2.2)(32,1.6)(32.5,1.0)(33,0.5)(33.6,0)(38,0)};
\addplot[elev] table {\elevG};
\addplot[elevdots] table {\elevG};
\addplot[iso] coordinates {(20,12.4)(20.5,12.5)(21,13)(21.5,13.2)(22,13.5)(22.4,14.3)(22.8,14)(23,13.2)(23.3,14)(23.7,17.5)(24.1,22.3)(24.5,26.8)(24.8,29.3)(25.1,30.5)(25.4,30.5)(25.7,29.3)(26,27)(26.3,25.3)(26.6,24.8)(27,25.8)(27.5,28.3)(28,29.5)(29,30.5)(30,30.5)(31,30.8)(32,31)(33,31)(34,31)(35,31.5)(36,31.5)(37,32)(38,32)};
\addplot[grav] coordinates {(20,10.7)(20.3,10)(20.7,11.3)(21,12.8)(21.5,13.3)(22,13)(22.5,12.3)(23,12.2)(23.3,13.3)(23.7,17.2)(24.1,22.8)(24.5,28)(24.8,31.8)(25.1,34)(25.4,34)(25.7,32)(26,29)(26.3,27)(26.6,26.3)(27,27.3)(27.5,29.3)(28,30.5)(29,31)(30,31.2)(31,31.3)(32,31.5)(33,31.6)(34,31.8)(35,32)(36,32.5)(37,32.8)(38,33.3)};
\addplot[crust] coordinates {(20,12.2)(21,12.5)(22,12.5)(23,12.6)(23.5,14)(24,16.4)(24.5,19.3)(25,21.3)(25.5,23)(26,24.2)(27,26.2)(28,28.3)(29,29.5)(30,30)(31,30.5)(32,31)(33,31.8)(33.5,32.5)(34,33)(34.5,33.8)(35,34.2)(35.5,34)(36,33)(36.5,32.3)(37,31.5)(37.5,30.5)(38,29)};
\tx{22.73}{-5.7}{PS}\rarr{23.13}{23.46}{-5.7}\vb{23.52}{-5.7}\rarr{23.92}{23.59}{-5.7}
\tx{24.64}{-5.7}{RA}
\rarr{25.14}{25.59}{-5.7}\vb{25.65}{-5.7}
\tx{26.36}{-5.7}{OT}
\vb{27.01}{-5.7}\rarr{27.59}{27.08}{-5.7}
\tx{28.23}{-5.7}{DB}
\rarr{28.66}{29.04}{-5.7}\vb{29.09}{-5.7}\rarr{29.60}{29.17}{-5.7}
\tx{30.82}{-5.7}{DB}
\rarr{32.04}{32.53}{-5.7}\vb{32.59}{-5.7}\rarr{32.97}{32.66}{-5.7}
\tx{33.52}{-5.7}{YS}
\crust{36.28}{13.3}\mantle{36.1}{44.4}\bld{24.93}{45.9}{RS}\bld{20.5}{55.8}{(g)}
\end{axis}

% ---------------- (h)
\begin{axis}[Rp, Rx, bot, at={(329pt,19pt)}]
\addplot[slab] coordinates {(29.74,60)(29.74,8.5)(30.1,9.8)(30.46,12.6)(30.85,16)(31.2,20.3)(31.6,25.5)(31.9,30.5)(32.2,36)(32.5,42.5)(32.8,50.5)(33.05,60)} -- cycle;
\addplot[gfill] coordinates {(20,9.3)(20.3,8.6)(20.7,10.3)(21,12)(21.5,13.5)(22,14)(22.5,13.2)(23,11.5)(23.5,13.2)(24,18)(24.3,21.5)(24.6,21.5)(25,19)(25.3,20.3)(25.6,23.2)(25.9,22)(26.2,17.5)(26.6,12.3)(27,10.5)(27.3,11.5)(27.7,16.5)(28,20.5)(28.3,22.3)(28.7,19.5)(29.1,15.5)(29.4,14.7)(29.8,16.8)(30.2,20.3)(30.7,24.5)(31.2,28.5)(31.7,31.5)(32,32.3)(32.5,32.5)(33,32.6)(33.5,33.2)(34,33.5)(34.5,32.8)(35,31.6)(35.5,30.5)(36,28.8)(36.5,27.6)(37,26.6)(37.5,25.5)(38,24.3)
 (38,26.5)(37.5,27.2)(37,28)(36.5,28.8)(36,29.8)(35.5,31.3)(35,32.3)(34.5,33.3)(34.2,33)(34,31.5)(33.5,31.5)(33,31.3)(32.5,31)(32,30.5)(31.7,30)(31.2,28.5)(30.7,25)(30.2,21)(29.8,18.5)(29.4,17.3)(29.1,17.5)(28.7,20)(28.3,22.7)(28,21.2)(27.7,18)(27.3,15)(27,14)(26.6,16)(26.2,21)(25.9,24.3)(25.6,22.5)(25.3,19)(25,17.5)(24.6,20.8)(24.3,21.7)(24,19)(23.5,15)(23,13.5)(22.5,13.7)(22,13.7)(21.5,13.5)(21,13.3)(20.5,13.2)(20,13)} -- cycle;
\addplot[sed] coordinates {(20,5.8)(21,5.7)(22,5.5)(23,5.5)(23.4,5.0)(23.7,3.5)(23.85,2.5)(24.0,4.0)(24.2,2.5)(24.5,1.6)(24.8,2.0)(25.0,3.0)(25.2,4.5)(25.45,3.5)(25.7,1.0)(25.9,2.5)(26.1,4.0)(26.5,5.0)(27.0,5.2)(27.3,4.5)(27.6,4.8)(27.85,3.0)(28.1,1.8)(28.4,3.2)(28.7,4.5)(29.0,5.3)(29.5,5.8)(30.0,5.5)(30.5,5.0)(31,3.8)(31.5,3.0)(32,3.0)(32.5,2.2)(33,1.5)(33.5,0.8)(34,0.4)(34.5,0.2)(35,0.3)(35.5,1.0)(36,2.5)(36.4,4.5)(36.8,6.5)(37.05,3.5)(37.2,1.2)(37.45,3.0)(37.7,6.0)(37.85,7.2)(38,6.7)};
\addplot[elev] table {\elevH};
\addplot[elevdots] table {\elevH};
\addplot[iso] coordinates {(20,13)(20.5,13.2)(21,13.3)(21.5,13.5)(22,13.7)(22.5,13.7)(23,13.5)(23.5,15)(24,19)(24.3,21.7)(24.6,20.8)(25,17.5)(25.3,19)(25.6,22.5)(25.9,24.3)(26.2,21)(26.6,16)(27,14)(27.3,15)(27.7,18)(28,21.2)(28.3,22.7)(28.7,20)(29.1,17.5)(29.4,17.3)(29.8,18.5)(30.2,21)(30.7,25)(31.2,28.5)(31.7,30)(32,30.5)(32.5,31)(33,31.3)(33.5,31.5)(34,31.5)(34.2,33)(34.5,33.3)(35,32.3)(35.5,31.3)(36,29.8)(36.5,28.8)(37,28)(37.5,27.2)(38,26.5)};
\addplot[grav] coordinates {(20,9.3)(20.3,8.6)(20.7,10.3)(21,12)(21.5,13.5)(22,14)(22.5,13.2)(23,11.5)(23.5,13.2)(24,18)(24.3,21.5)(24.6,21.5)(25,19)(25.3,20.3)(25.6,23.2)(25.9,22)(26.2,17.5)(26.6,12.3)(27,10.5)(27.3,11.5)(27.7,16.5)(28,20.5)(28.3,22.3)(28.7,19.5)(29.1,15.5)(29.4,14.7)(29.8,16.8)(30.2,20.3)(30.7,24.5)(31.2,28.5)(31.7,31.5)(32,32.3)(32.5,32.5)(33,32.6)(33.5,33.2)(34,33.5)(34.5,32.8)(35,31.6)(35.5,30.5)(36,28.8)(36.5,27.6)(37,26.6)(37.5,25.5)(38,24.3)};
\addplot[crust] coordinates {(20,12.2)(21,12.2)(22,11.5)(23,10.9)(24,10.2)(25,9.9)(26,10)(27,10.4)(28,10.8)(29,11.2)(29.5,12.3)(30,14.2)(30.5,16)(31,17.9)(31.5,21)(32,25)(32.5,29.8)(33,33.7)(33.5,36)(34,35.8)(34.5,33.5)(35,30.5)(35.5,27)(36,23)(36.5,19.5)(37,17)(37.5,16)(38,15.6)};
\btx{24.53}{-2.1}{ODR}\btx{26.08}{-2.1}{DR}\btx{28.02}{-2.1}{AR}
\tx{28.88}{-4.8}{PS}\rarr{29.38}{30.22}{-4.8}\vb{30.29}{-4.8}\rarr{31.11}{30.36}{-4.8}
\tx{32.11}{-4.8}{Japan}
\crust{36.3}{13.7}\mantle{36.1}{44.6}\bld{31.4}{45.9}{RS}\bld{20.5}{55.8}{(h)}
\end{axis}
\end{tikzpicture}
\end{document}
